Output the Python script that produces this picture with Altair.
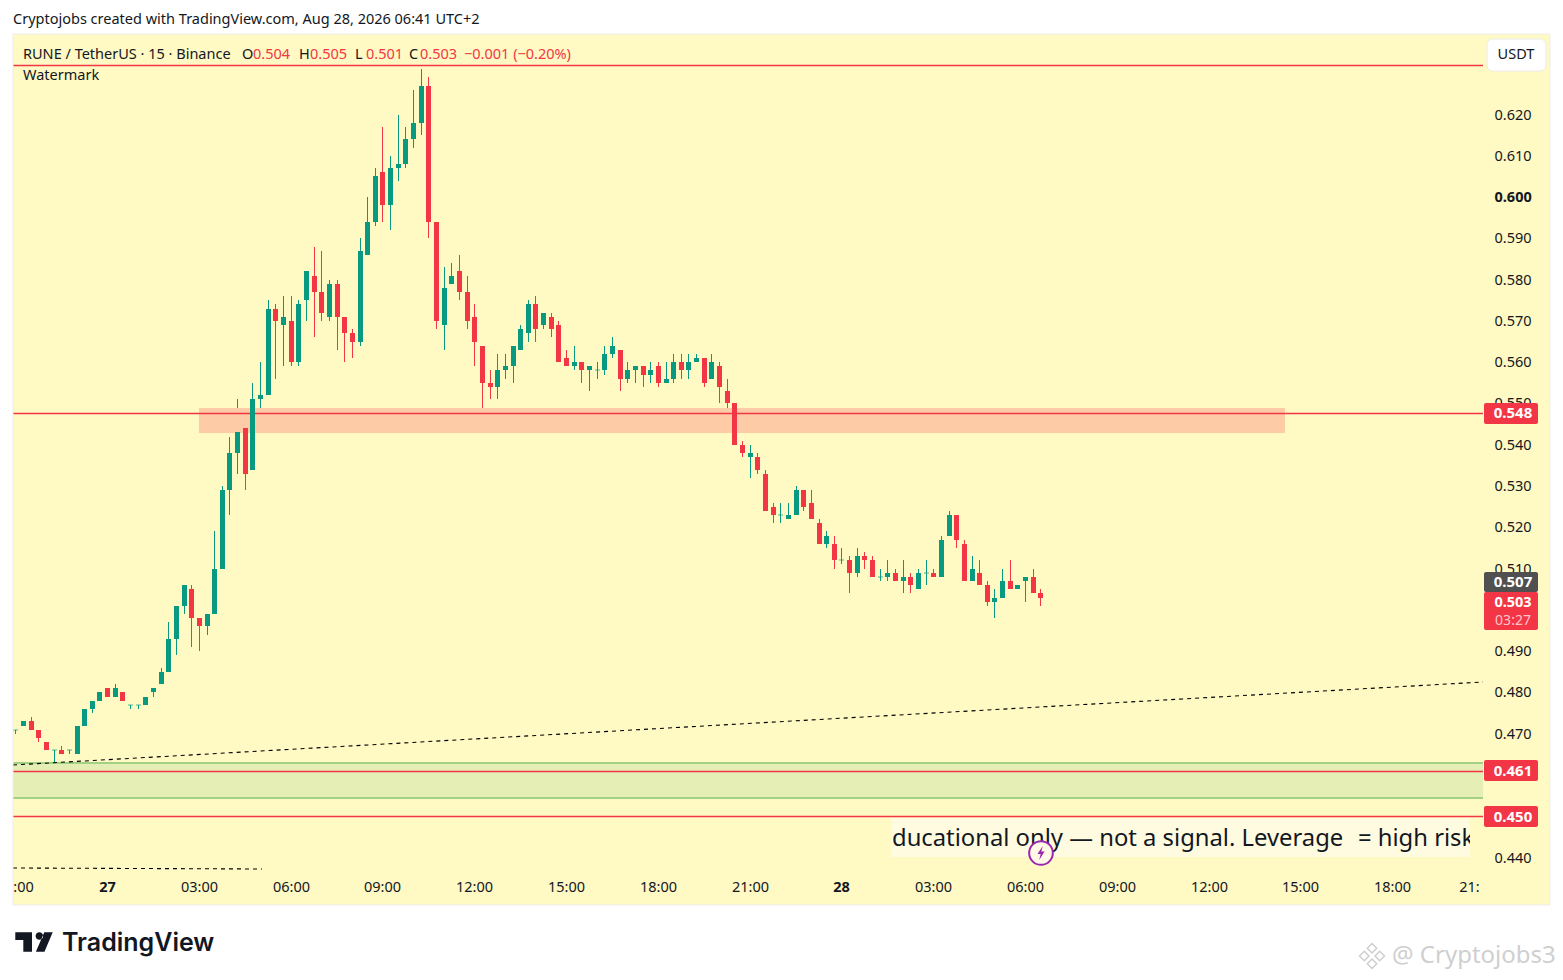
import altair as alt
import pandas as pd

# 15-minute candles, in thousandths of a USDT. Bar 1 is 26 Aug 21:00.
opens = [471,472,473,471,468,466,466,466,465,472,476,478,481,479,480,477,477,477,480,482,485,493,501,505,498,496,499,510,529,538,
         544,534,551,552,573,569,570,560,575,581,577,571,579,571,567,565,586,594,606,598,607,608,614,618,627,594,569,579,582,577,
         571,564,555,554,558,559,563,567,574,569,571,569,561,559,560,558,558,558,562,563,556,558,559,557,559,555,556,560,558,560,
         561,556,559,553,550,540,537,537,533,525,523,522,523,529,526,521,516,516,512,512,509,513,512,508,508,509,507,508,505,509,
         509,508,518,523,516,507,509,506,502,503,507,505,507,508,504]
highs = [471,473,474,471,468,466,467,466,472,476,478,480,481,482,480,477,477,479,481,486,497,501,506,506,498,499,519,530,542,551,
         544,555,560,575,574,576,576,575,582,588,587,580,580,571,568,590,600,607,617,610,620,617,626,631,629,594,583,584,586,581,
         574,564,558,562,562,564,569,575,576,572,572,570,563,564,560,559,560,564,566,563,560,559,559,560,560,560,562,562,562,562,
         561,562,560,556,550,541,540,538,534,526,526,526,530,529,529,522,519,518,515,513,515,514,513,510,512,510,512,509,510,512,
         510,518,524,523,517,513,512,507,505,510,512,506,508,510,505]
lows = [470,472,471,468,466,463,465,465,465,472,475,478,479,479,478,476,476,477,479,482,485,489,499,491,490,494,499,510,523,533,
        529,534,547,552,556,559,559,559,570,566,570,570,563,560,561,564,586,593,594,592,604,607,612,615,590,568,563,579,575,568,
        559,547,551,551,556,555,563,565,565,568,566,560,559,558,555,553,556,557,561,553,555,555,554,555,554,555,555,556,556,560,
        554,556,550,549,540,537,532,533,524,521,521,522,523,524,522,516,515,510,511,504,508,510,508,507,507,507,504,504,505,506,
        508,508,518,515,507,507,506,501,498,503,505,505,502,504,501]
closes = [471,473,471,469,466,466,465,466,472,476,478,480,479,481,478,477,477,479,481,485,493,501,506,498,496,499,510,529,538,543,
          533,551,552,573,570,571,560,574,582,577,572,579,571,567,565,587,594,605,598,607,608,614,618,627,594,570,578,581,577,570,
          565,555,554,558,559,564,568,574,568,572,568,560,559,560,558,559,558,562,564,556,558,559,557,558,555,556,560,558,560,561,
          555,560,554,550,540,538,538,534,524,523,523,523,529,525,522,516,518,512,512,509,513,512,508,508,509,507,508,506,509,509,
          508,517,523,517,507,510,506,502,503,507,505,506,508,504,503]

# 0.450, 0.460 and 0.500 sit wholly behind the badges in the reference, so they are not listed.
price_ticks = [0.44, 0.47, 0.48, 0.49, 0.51, 0.52, 0.53, 0.54, 0.55, 0.56, 0.57, 0.58, 0.59, 0.60, 0.61, 0.62]
time_bars = [2, 13, 25, 37, 49, 61, 73, 85, 97, 109, 121, 133, 145, 157, 169, 181, 191]
time_labels = [":00", "27", "03:00", "06:00", "09:00", "12:00", "15:00", "18:00", "21:00", "28", "03:00", "06:00",
               "09:00", "12:00", "15:00", "18:00", "21:"]

level_prices = [0.632, 0.5476, 0.461, 0.450]
badge_labels = ["0.548", "0.507", "0.503", "0.461", "0.450"]
badge_centres = [0.5476, 0.5068, 0.5019, 0.4611, 0.4499]
badge_tops = [0.5501, 0.5092, 0.5043, 0.4636, 0.4524]
badge_bottoms = [0.5450, 0.5043, 0.4951, 0.4585, 0.4473]
badge_colors = ["#F23645", "#505050", "#F23645", "#F23645", "#F23645"]

RED, GREEN, INK, PANEL = "#F23645", "#089981", "#131722", "#FFF9C4"
FONT = "Noto Sans"
BAR_MIN, BAR_MAX = 0.699, 192.86

xs = alt.Scale(domain=[BAR_MIN, BAR_MAX], nice=False, zero=False, round=True, padding=0)
ys = alt.Scale(domain=[0.4370, 0.6395], nice=False, zero=False, round=True, padding=0)

label_map = "{" + ",".join(f"{b}:'{t}'" for b, t in zip(time_bars, time_labels)) + "}[datum.value]"
xa = alt.Axis(values=time_bars, labelExpr=label_map, grid=False, domain=False, ticks=False, labelPadding=10, title=None,
              labelFontSize=14.5, labelFont=FONT, labelColor=INK, labelOverlap=False, labelBound=False, labelFlush=False,
              labelAngle=0,
              labelFontWeight={"condition": {"test": "datum.value==13||datum.value==109", "value": "bold"}, "value": "normal"})
ya = alt.Axis(orient="right", values=price_ticks, format=".3f", grid=False, domain=False, ticks=False, labelPadding=11, title=None,
              labelFontSize=14.5, labelFont=FONT, labelColor=INK, labelOverlap=False, labelBound=False, labelFlush=False,
              labelFontWeight={"condition": {"test": "datum.label=='0.600'", "value": "bold"}, "value": "normal"})


def X(f):
    return alt.X(f, scale=xs, axis=xa)


def Y(f):
    return alt.Y(f, scale=ys, axis=ya)


candles = pd.DataFrame({"bar": range(1, len(opens) + 1), "o": opens, "h": highs, "l": lows, "c": closes})
for col in "ohlc":
    candles[col] = candles[col] / 1000
candles["dir"] = ["up" if c >= o else "down" for o, c in zip(candles.o, candles.c)]
dir_color = alt.Color("dir:N", scale=alt.Scale(domain=["up", "down"], range=[GREEN, RED]), legend=None)

one = alt.Data(values=[{"a": 1}])


def label(text, x, y, size=14.5, color=INK, align="left", weight="normal", font=FONT, opacity=1):
    return alt.Chart(one).mark_text(text=text, align=align, baseline="middle", fontSize=size, color=color,
                                    fontWeight=weight, font=font, opacity=opacity, clip=False).encode(
        x=alt.value(x - 13), y=alt.value(y - 34))


def box(x1, x2, y1, y2, **kw):
    return alt.Chart(one).mark_rect(clip=False, **kw).encode(
        x=alt.value(x1 - 13), x2=alt.value(x2 - 13), y=alt.value(y1 - 34), y2=alt.value(y2 - 34))


wicks = alt.Chart(candles).mark_rule(strokeWidth=1, xOffset=0.5).encode(
    x=X("bar:Q"), y=Y("h:Q"), y2="l:Q", color=dir_color)
bodies = alt.Chart(candles[candles.o != candles.c]).mark_bar(size=5, cornerRadius=0, xOffset=0.5).encode(
    x=X("bar:Q"), y=Y("o:Q"), y2="c:Q", color=dir_color)
dojis = alt.Chart(candles[candles.o == candles.c]).mark_tick(orient="horizontal", size=5, thickness=1, xOffset=0.5).encode(
    x=X("bar:Q"), y=Y("o:Q"), color=dir_color)


def hline(df, color, width, offset):
    return alt.Chart(df).mark_rule(color=color, strokeWidth=width, yOffset=offset).encode(
        x=X("x0:Q"), x2="x1:Q", y=Y("p:Q"))


orange = alt.Chart(pd.DataFrame({"x0": [25], "x1": [167], "y0": [0.5489], "y1": [0.5428]})).mark_rect(color="#FDCBA6").encode(
    x=X("x0:Q"), x2="x1:Q", y=Y("y0:Q"), y2="y1:Q")
green = alt.Chart(pd.DataFrame({"x0": [BAR_MIN], "x1": [BAR_MAX], "y0": [0.4629], "y1": [0.4544]})).mark_rect(color="#E5EEB4").encode(
    x=X("x0:Q"), x2="x1:Q", y=Y("y0:Q"), y2="y1:Q")
green_edges = hline(pd.DataFrame({"x0": [BAR_MIN] * 2, "x1": [BAR_MAX] * 2, "p": [0.4629, 0.4544]}), "#A2D184", 2, 0)
levels = hline(pd.DataFrame({"x0": [BAR_MIN] * 4, "x1": [BAR_MAX] * 4, "p": level_prices}), RED, 1.4, 0.5)

trend = alt.Chart(pd.DataFrame({"bar": [BAR_MIN, BAR_MAX], "p": [0.4624, 0.4825]})).mark_line(
    color="#000000", strokeWidth=1.1, strokeDash=[4, 4]).encode(x=X("bar:Q"), y=Y("p:Q"))
lower = alt.Chart(pd.DataFrame({"bar": [BAR_MIN, 33.2], "p": [0.4376, 0.4372]})).mark_line(
    color="#000000", strokeWidth=1.1, strokeDash=[4, 4]).encode(x=X("bar:Q"), y=Y("p:Q"))

badges = pd.DataFrame({"t": badge_tops, "b": badge_bottoms, "m": badge_centres, "txt": badge_labels, "col": badge_colors})
badge_rects = alt.Chart(badges).mark_rect(cornerRadius=2, clip=False).encode(
    x=alt.value(1471), x2=alt.value(1525), y=Y("t:Q"), y2="b:Q", color=alt.Color("col:N", scale=None))
badge_text = alt.Chart(badges[badges.txt != "0.503"]).mark_text(
    color="#FFFFFF", fontSize=15, font=FONT, fontWeight="bold", clip=False).encode(
    x=alt.value(1500), y=Y("m:Q"), text="txt:N")

strips = [
    box(8, 1555, 8, 34, color="#FFFFFF"),
    box(8, 13, 34, 905, color="#FFFFFF"),
    box(1550, 1555, 34, 905, color="#FFFFFF"),
    box(8, 1555, 905, 972, color="#FFFFFF"),
    box(13, 1550, 34, 905, fillOpacity=0, stroke="#EDEDED", strokeWidth=1),
]

logo = alt.Chart(one).mark_point(
    shape="M-1 -.52H-.107V.52H-.571V-.107H-1Z M.086 -.32a.2 .2 0 1 0 .4 0a.2 .2 0 1 0 -.4 0Z M.55 -.52H1L.56 .52H.1Z",
    size=1400, filled=True, color=INK, opacity=1, clip=False).encode(x=alt.value(34 - 13), y=alt.value(942 - 34))
bolt = alt.Chart(one).mark_point(
    shape="M.25 -1L-.5 .15H-.05L-.25 1L.5 -.2H.05Z", size=200, filled=True, color="#9C27B0", opacity=1, clip=False).encode(
    x=alt.value(1041 - 13), y=alt.value(853 - 34))
bubble = alt.Chart(one).mark_point(shape="circle", size=560, filled=True, fill="#FFF9E6", stroke="#9C27B0",
                                   strokeWidth=2, opacity=1, clip=False).encode(
    x=alt.value(1041 - 13), y=alt.value(853 - 34))
mark_wm = alt.Chart(one).mark_point(
    shape="M0 -1L.38 -.62L0 -.24L-.38 -.62Z M-.62 -.38L-.24 0L-.62 .38L-1 0Z M.62 -.38L1 0L.62 .38L.24 0Z M0 .24L.38 .62L0 1L-.38 .62Z",
    size=620, filled=False, stroke="#CFCFCF", strokeWidth=1.5, opacity=1, clip=False).encode(
    x=alt.value(1372 - 13), y=alt.value(956 - 34))

layers = [wicks, orange, green, green_edges, levels, trend, lower, bodies, dojis] + strips + [
    box(891, 1470, 818, 857, color="#FFFBE0"),
    label("ducational only \u2014 not a signal. Leverage\u00a0\u00a0\u200a= high risk", 892, 839, size=23.8),
    box(1470, 1483, 818, 857, color=PANEL),
    bubble, bolt,
    badge_rects, badge_text,
    label("0.503", 1513, 603, color="#FFFFFF", align="center", weight="bold", size=14.5),
    label("03:27", 1513, 621, color="#FFC4CB", align="center", size=14),
    box(1487, 1546, 39, 71, color="#FFFFFF", cornerRadius=6, stroke="#EBEBEB"),
    label("USDT", 1516, 55, align="center"),
    label("Cryptojobs created with TradingView.com, Aug 28, 2026 06:41 UTC+2", 13, 20),
    label("RUNE / TetherUS \u00b7 15 \u00b7 Binance", 23, 55),
    label("O", 242, 55), label("0.504", 253, 55, color=RED),
    label("H", 299, 55), label("0.505", 310, 55, color=RED),
    label("L", 355, 55), label("0.501", 366, 55, color=RED),
    label("C", 409, 55), label("0.503", 420, 55, color=RED),
    label("\u22120.001 (\u22120.20%)", 464, 55, color=RED),
    label("Watermark", 23, 76),
    logo,
    label("TradingView", 62, 943, size=25, weight=600, font="Inter"),
    mark_wm,
    label("@ Cryptojobs3", 1392, 956, size=24, color="#CFCFCF"),
]

chart = alt.layer(*layers).properties(
    width=1470, height=836,
    autosize=alt.AutoSizeParams(type="none"),
    padding={"left": 5, "top": 26, "right": 72, "bottom": 102},
    background=PANEL,
).resolve_scale(color="independent").configure_view(stroke=None)

chart.save("out.html", embed_options={"renderer": "svg", "actions": False})
